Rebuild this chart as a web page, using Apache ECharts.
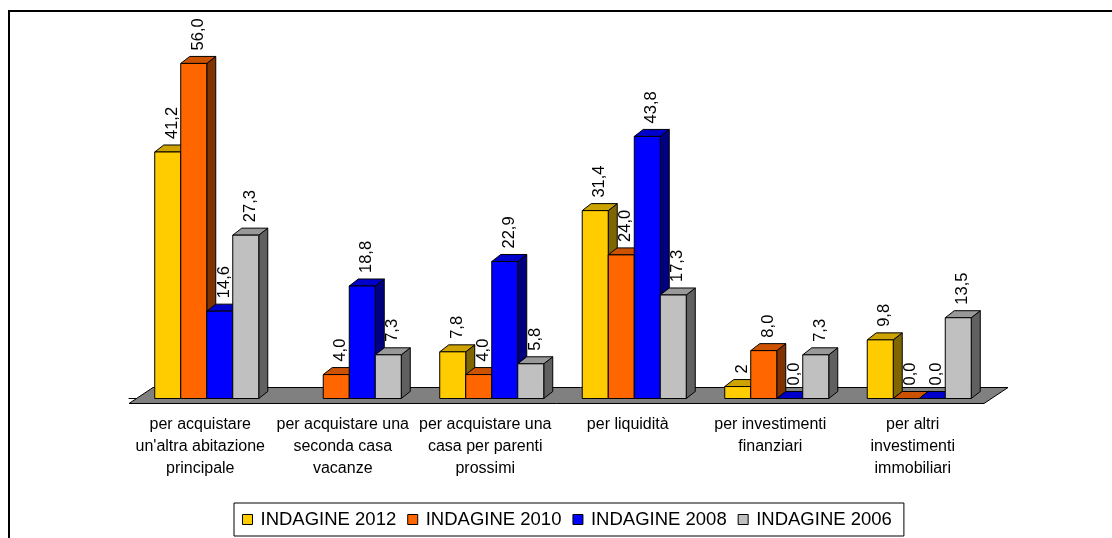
<!DOCTYPE html>
<html>
<head>
<meta charset="utf-8">
<script src="https://cdn.jsdelivr.net/npm/echarts@6/dist/echarts.min.js"></script>
<style>
  html, body { margin: 0; padding: 0; background: #fff; }
  #chart { width: 1112px; height: 538px; }
</style>
</head>
<body>
<div id="chart"></div>
<script>
// Categories of the survey question
const categories = [
  "per acquistare\nun'altra abitazione\nprincipale",
  "per acquistare una\nseconda casa\nvacanze",
  "per acquistare una\ncasa per parenti\nprossimi",
  "per liquidità",
  "per investimenti\nfinanziari",
  "per altri\ninvestimenti\nimmobiliari"
];

// Percentages per survey year (null = no answer recorded)
const indagine2012 = [41.2, null, 7.8, 31.4, 2, 9.8];
const indagine2010 = [56.0, 4.0, 4.0, 24.0, 8.0, 0.0];
const indagine2008 = [14.6, 18.8, 22.9, 43.8, 0.0, 0.0];
const indagine2006 = [27.3, 7.3, 5.8, 17.3, 7.3, 13.5];

const seriesNames = ['INDAGINE 2012', 'INDAGINE 2010', 'INDAGINE 2008', 'INDAGINE 2006'];
const seriesValues = [indagine2012, indagine2010, indagine2008, indagine2006];

// front / top / side shading of each series
const palette = [
  { front: '#FFCC00', top: '#CCA300', side: '#806600' },
  { front: '#FF6600', top: '#CC5200', side: '#803300' },
  { front: '#0000FF', top: '#0000CC', side: '#000080' },
  { front: '#C0C0C0', top: '#999999', side: '#606060' }
];
// 2012 uses a general number format, the other years one decimal
const generalFormat = [true, false, false, false];

const FONT = "'Liberation Sans', Arial, sans-serif";
const DEPTH_DX = 9, DEPTH_DY = -7;     // extrusion of each bar
const BAR_SHIFT = 6.5;                  // bars sit in the middle of the floor depth
const BAR_RATIO = 0.1825;               // bar width relative to the category band

function fmt(v, general) {
  const s = general ? String(v) : v.toFixed(1);
  return s.replace('.', ',');
}

function barRenderer(sIdx) {
  const col = palette[sIdx];
  return function (params, api) {
    const v = api.value(1);
    if (v == null || isNaN(v)) return null;
    const c = api.value(0);
    const zero = api.coord([c, 0]);
    const top = api.coord([c, v]);
    const band = api.size([1, 0])[0];
    const w = band * BAR_RATIO;
    const x0 = zero[0] + BAR_SHIFT + (sIdx - 2) * w;
    const x1 = x0 + w;
    const yb = zero[1];
    const yt = top[1];
    const dx = DEPTH_DX, dy = DEPTH_DY;
    const stroke = { stroke: '#000', lineWidth: 1 };
    const children = [
      { type: 'polygon', shape: { points: [[x1, yb], [x1, yt], [x1 + dx, yt + dy], [x1 + dx, yb + dy]] },
        style: Object.assign({ fill: col.side }, stroke) },
      { type: 'polygon', shape: { points: [[x0, yt], [x0 + dx, yt + dy], [x1 + dx, yt + dy], [x1, yt]] },
        style: Object.assign({ fill: col.top }, stroke) },
      { type: 'rect', shape: { x: x0, y: yt, width: w, height: yb - yt },
        style: Object.assign({ fill: col.front }, stroke) },
      { type: 'text', z2: 100,
        x: x0 + w / 2 + 4.5, y: yt + dy - 6, rotation: Math.PI / 2,
        style: { text: fmt(v, generalFormat[sIdx]), fill: '#000', font: '16.5px ' + FONT,
                 align: 'left', verticalAlign: 'middle' } }
    ];
    return { type: 'group', children: children };
  };
}

// grey floor plane under the bars
function floorRenderer(params, api) {
  const cs = params.coordSys;
  const y0 = api.coord([0, 0])[1];
  const front = y0 + 5, back = y0 - 11;
  const shift = (front - back) * 1.5;
  const xl = cs.x, xr = cs.x + cs.width;
  return {
    type: 'polygon',
    shape: { points: [[xl, front], [xl + shift, back], [xr + shift, back], [xr, front]] },
    style: { fill: '#808080', stroke: '#000', lineWidth: 1 }
  };
}

const series = [{
  type: 'custom', name: 'floor', z: 1, silent: true,
  renderItem: floorRenderer, data: [[0, 0]], encode: { x: 0, y: 1 }
}];
seriesValues.forEach((vals, s) => {
  series.push({
    type: 'custom',
    name: seriesNames[s],
    z: 2,
    itemStyle: { color: palette[s].front },
    renderItem: barRenderer(s),
    encode: { x: 0, y: 1 },
    data: vals.map((v, i) => [i, v == null ? NaN : v])
  });
});

const chart = echarts.init(document.getElementById('chart'), null, { renderer: 'canvas' });
chart.setOption({
  animation: false,
  backgroundColor: '#fff',
  graphic: [{
    type: 'rect', silent: true,
    shape: { x: 9, y: 11, width: 1300, height: 800 },
    style: { fill: 'none', stroke: '#000', lineWidth: 2 }
  }],
  grid: { left: 129, right: 128, top: 39.5, bottom: 139.5 },
  xAxis: {
    type: 'category',
    data: categories,
    offset: 5,
    axisLine: { lineStyle: { color: '#000', width: 1 } },
    axisTick: { length: 5, lineStyle: { color: '#000' } },
    axisLabel: { interval: 0, margin: 10, color: '#000', fontSize: 16, fontFamily: FONT, lineHeight: 22 }
  },
  yAxis: { type: 'value', min: 0, max: 60, show: false, splitLine: { show: false } },
  legend: {
    data: seriesNames,
    left: 234, top: 503,
    padding: [7, 12, 7, 8],
    itemGap: 11,
    itemWidth: 10, itemHeight: 10,
    icon: 'rect',
    borderColor: '#000', borderWidth: 1,
    backgroundColor: '#fff',
    itemStyle: { borderColor: '#000', borderWidth: 1 },
    textStyle: { fontSize: 18.5, fontFamily: FONT, color: '#000', padding: [0, 0, 0, 3] }
  },
  series: series
});
</script>
</body>
</html>
